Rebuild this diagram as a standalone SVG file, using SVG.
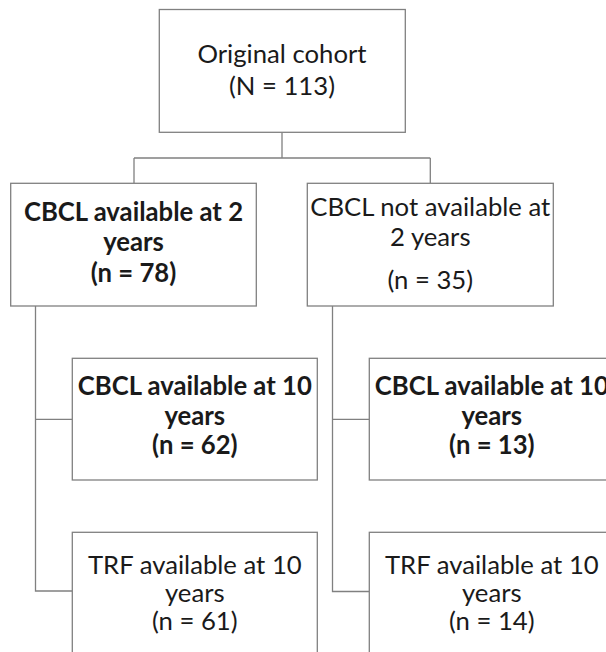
<svg xmlns="http://www.w3.org/2000/svg" width="606" height="652" viewBox="0 0 606 652">
<style>
.box{fill:#ffffff;stroke:#808080;stroke-width:1.3}
.ln{fill:none;stroke:#808080;stroke-width:1.3}
text{font-family:Lato,"Liberation Sans",sans-serif;font-size:25.7px;fill:#1a1a1a;text-anchor:middle}
.b{font-weight:bold}
</style>
<rect width="606" height="652" fill="#ffffff"/>
<g id="connectors">
<path class="ln" d="M282,132.3 V158 M134,158 H430.3 M134,158 V183.3 M430.3,158 V183.3"/>
<path class="ln" d="M35.5,306 V591 H72.3 M35.5,419.3 H72.3"/>
<path class="ln" d="M332.5,306 V591.5 H369.3 M332.5,419.3 H369.3"/>
</g>
<g id="n-original">
<rect class="box" x="159.3" y="9.5" width="246" height="122.8"/>
<text x="282" y="63.3">Original cohort</text>
<text x="282" y="94.5">(N = 113)</text>
</g>
<g id="n-cbcl2">
<rect class="box" x="10.7" y="183.3" width="245.6" height="122.7"/>
<text class="b" x="133.5" y="221">CBCL available at 2</text>
<text class="b" x="133.5" y="251">years</text>
<text class="b" x="133.5" y="281.5">(n = 78)</text>
</g>
<g id="n-nocbcl2">
<rect class="box" x="307.3" y="183.3" width="246" height="122.7"/>
<text x="430.3" y="215.7">CBCL not available at</text>
<text x="430.3" y="245.7">2 years</text>
<text x="430.3" y="289">(n = 35)</text>
</g>
<g id="n-cbcl10-left">
<rect class="box" x="72.3" y="358.3" width="245" height="121.7"/>
<text class="b" x="194.8" y="395">CBCL available at 10</text>
<text class="b" x="194.8" y="425">years</text>
<text class="b" x="194.8" y="454">(n = 62)</text>
</g>
<g id="n-trf-left">
<rect class="box" x="72.3" y="532.3" width="245" height="130"/>
<text x="194.8" y="574">TRF available at 10</text>
<text x="194.8" y="602">years</text>
<text x="194.8" y="629.5">(n = 61)</text>
</g>
<g id="n-cbcl10-right">
<rect class="box" x="369.3" y="358.3" width="245" height="121.7"/>
<text class="b" x="491.8" y="395">CBCL available at 10</text>
<text class="b" x="491.8" y="425">years</text>
<text class="b" x="491.8" y="454">(n = 13)</text>
</g>
<g id="n-trf-right">
<rect class="box" x="369.3" y="532.3" width="245" height="130"/>
<text x="491.8" y="574">TRF available at 10</text>
<text x="491.8" y="602">years</text>
<text x="491.8" y="629.5">(n = 14)</text>
</g>
</svg>
